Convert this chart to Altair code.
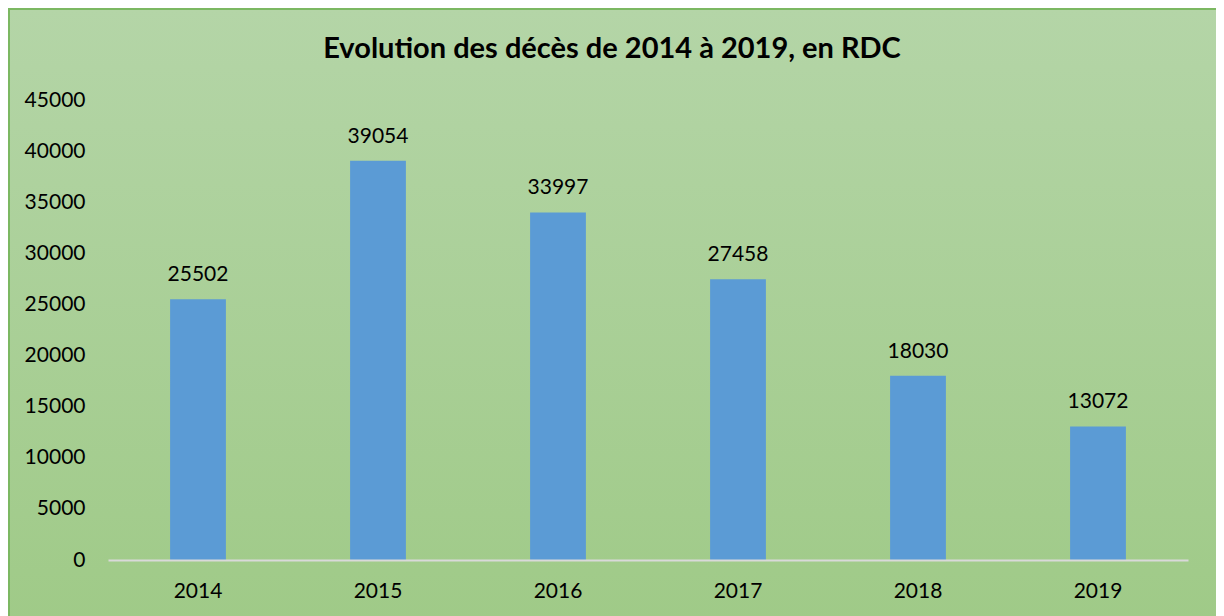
import altair as alt
import pandas as pd

years = ["2014", "2015", "2016", "2017", "2018", "2019"]
deaths = [25502, 39054, 33997, 27458, 18030, 13072]
y_ticks = [0, 5000, 10000, 15000, 20000, 25000, 30000, 35000, 40000, 45000]
title_text = "Evolution des décès de 2014 à 2019, en RDC"

df = pd.DataFrame({"year": years, "deaths": deaths})

FONT = "Lato"
W, H = 1080, 460

bg = alt.Chart(pd.DataFrame({"a": [0]})).mark_rect(
    fill=alt.Gradient(
        gradient="linear", x1=0, y1=0, x2=0, y2=1,
        stops=[alt.GradientStop(color="#b4d5a7", offset=0),
               alt.GradientStop(color="#9fca87", offset=1)]),
    stroke="#7cb862", strokeWidth=2, clip=False
).encode(x=alt.value(-99), x2=alt.value(1109), y=alt.value(-91), y2=alt.value(530))

title = alt.Chart(pd.DataFrame({"t": [title_text]})).mark_text(
    font=FONT, fontSize=29, fontWeight="bold", color="#000000",
    align="center", baseline="alphabetic"
).encode(x=alt.value(504), y=alt.value(-42), text="t:N")

x_enc = alt.X("year:N", sort=years, title=None,
              scale=alt.Scale(paddingInner=0.69, paddingOuter=0.345),
              axis=alt.Axis(labelAngle=0, labelFont=FONT, labelFontSize=21,
                            labelColor="#000000", labelPadding=20, ticks=False,
                            domainColor="#d9d9d9", domainWidth=2, grid=False,
                            zindex=1))
y_enc = alt.Y("deaths:Q", title=None,
              scale=alt.Scale(domain=[0, 45000], nice=False),
              axis=alt.Axis(values=y_ticks, labelFont=FONT, labelFontSize=21,
                            labelColor="#000000", labelPadding=23, ticks=False,
                            domain=False, grid=False, format="d", zindex=1))

bars = alt.Chart(df).mark_bar(color="#5b9bd5").encode(x=x_enc, y=y_enc)
labels = alt.Chart(df).mark_text(font=FONT, fontSize=21, color="#000000",
                                 baseline="alphabetic", dy=-18).encode(
    x=alt.X("year:N", sort=years), y="deaths:Q", text=alt.Text("deaths:Q", format="d"))

chart = alt.layer(bg, title, bars, labels).properties(
    width=W, height=H,
    padding={"left": 100, "top": 92, "right": 28, "bottom": 60},
    autosize=alt.AutoSizeParams(type="none"),
).configure_view(stroke=None).configure(background="white")

chart.save("out.html", embed_options={"renderer": "svg", "actions": False})
